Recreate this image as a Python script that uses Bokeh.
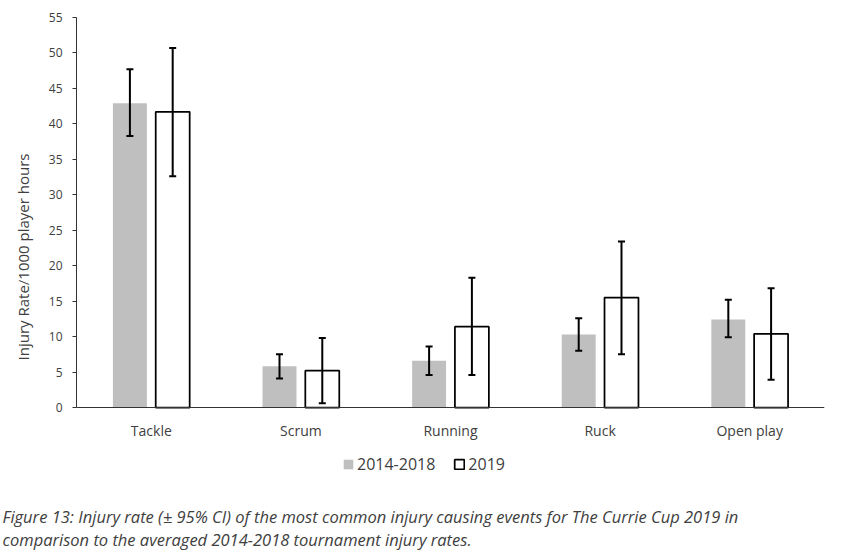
from bokeh.plotting import figure
from bokeh.models import (ColumnDataSource, FactorRange, Range1d, Whisker, TeeHead,
                          Legend, LegendItem, Title, FixedTicker, Span)
from bokeh.transform import dodge
from bokeh.core.properties import value
from bokeh.embed import file_html
from bokeh.resources import INLINE

# ---- data ----
categories = ["Tackle", "Scrum", "Running", "Ruck", "Open play"]
series_labels = ["2014-2018", "2019"]
rate_2014_2018 = [42.9, 5.8, 6.6, 10.3, 12.4]
lower_2014_2018 = [38.3, 4.1, 4.6, 8.0, 9.9]
upper_2014_2018 = [47.7, 7.5, 8.6, 12.6, 15.2]
rate_2019 = [41.7, 5.2, 11.4, 15.5, 10.4]
lower_2019 = [32.6, 0.6, 4.6, 7.5, 3.9]
upper_2019 = [50.7, 9.8, 18.3, 23.4, 16.8]
y_ticks = [0, 5, 10, 15, 20, 25, 30, 35, 40, 45, 50, 55]
y_label = "Injury Rate/1000 player hours"
caption_lines = [
    "Figure 13: Injury rate (\u00b1 95% CI) of the most common injury causing events for The Currie Cup 2019 in",
    "comparison to the averaged 2014-2018 tournament injury rates.",
]

FONT = "Open Sans"
TXT = "#404040"

# layout (pixels): frame from y=17 (value 55) down to y=496, value 0 at y=407
TOP_PX, ZERO_PX, BOTTOM_PX = 17, 407, 496
Y_MAX = y_ticks[-1]
y_start = -Y_MAX * (BOTTOM_PX - ZERO_PX) / (ZERO_PX - TOP_PX)
W, H = 840, 557

src = ColumnDataSource(dict(
    cat=categories,
    r1=rate_2014_2018, lo1=lower_2014_2018, hi1=upper_2014_2018,
    r2=rate_2019, lo2=lower_2019, hi2=upper_2019,
))

p = figure(x_range=FactorRange(factors=categories, range_padding=0),
           y_range=Range1d(y_start, Y_MAX), x_axis_location=None,
           width=W, height=H, output_backend="svg", toolbar_location=None,
           min_border_left=76, min_border_right=16, min_border_top=TOP_PX,
           min_border_bottom=H - BOTTOM_PX)
p.outline_line_color = None
p.xgrid.grid_line_color = None
p.ygrid.grid_line_color = None
p.background_fill_color = "white"
p.border_fill_color = "white"

off = 0.143
bw = 0.227
x1 = dodge("cat", -off, range=p.x_range)
x2 = dodge("cat", off, range=p.x_range)

b1 = p.vbar(x=x1, top="r1", width=bw, source=src, fill_color="#bfbfbf", line_color=None)
b2 = p.vbar(x=x2, top="r2", width=bw, source=src, fill_color="white",
            line_color="black", line_width=1.75)

for base, lo, hi in ((x1, "lo1", "hi1"), (x2, "lo2", "hi2")):
    w = Whisker(base=base, lower=lo, upper=hi, source=src, level="overlay",
                line_color="black", line_width=2,
                upper_head=TeeHead(size=7, line_color="black", line_width=2),
                lower_head=TeeHead(size=7, line_color="black", line_width=2))
    p.add_layout(w)

# category axis: baseline at 0 and category labels
p.add_layout(Span(location=0, dimension="width", line_color="#333333", line_width=1))
p.text(x="cat", y=0, text="cat", source=src, y_offset=23,
       text_align="center", text_baseline="middle",
       text_font=value(FONT), text_font_size="14px", text_color=TXT)

# value axis
ya = p.yaxis[0]
ya.bounds = (0, Y_MAX)
ya.ticker = FixedTicker(ticks=y_ticks)
ya.minor_tick_line_color = None
ya.major_tick_out = 4
ya.major_tick_in = 0
ya.major_label_standoff = 10
ya.axis_line_color = "#333333"
ya.major_tick_line_color = "#333333"
ya.major_label_text_font = FONT
ya.major_label_text_font_size = "12px"
ya.major_label_text_color = TXT
ya.axis_label = y_label
ya.axis_label_text_font = FONT
ya.axis_label_text_font_size = "15px"
ya.axis_label_text_font_style = "normal"
ya.axis_label_text_color = TXT
ya.axis_label_standoff = 13

legend = Legend(items=[LegendItem(label=series_labels[0], renderers=[b1]),
                       LegendItem(label=series_labels[1], renderers=[b2])],
                location=(266, BOTTOM_PX - 475), orientation="horizontal",
                padding=0, margin=0, spacing=18, label_standoff=3,
                glyph_width=12, glyph_height=12, label_height=20,
                border_line_color=None, background_fill_alpha=0,
                label_text_font=FONT, label_text_font_size="16px",
                label_text_color=TXT)
p.add_layout(legend)

p.add_layout(Title(text="\n".join(caption_lines), align="left", offset=-74, standoff=13,
                   text_font=FONT, text_font_style="italic", text_line_height=1.0,
                   text_font_size="16.5px", text_color=TXT), "below")

open("out.html", "w").write(file_html(p, INLINE))
